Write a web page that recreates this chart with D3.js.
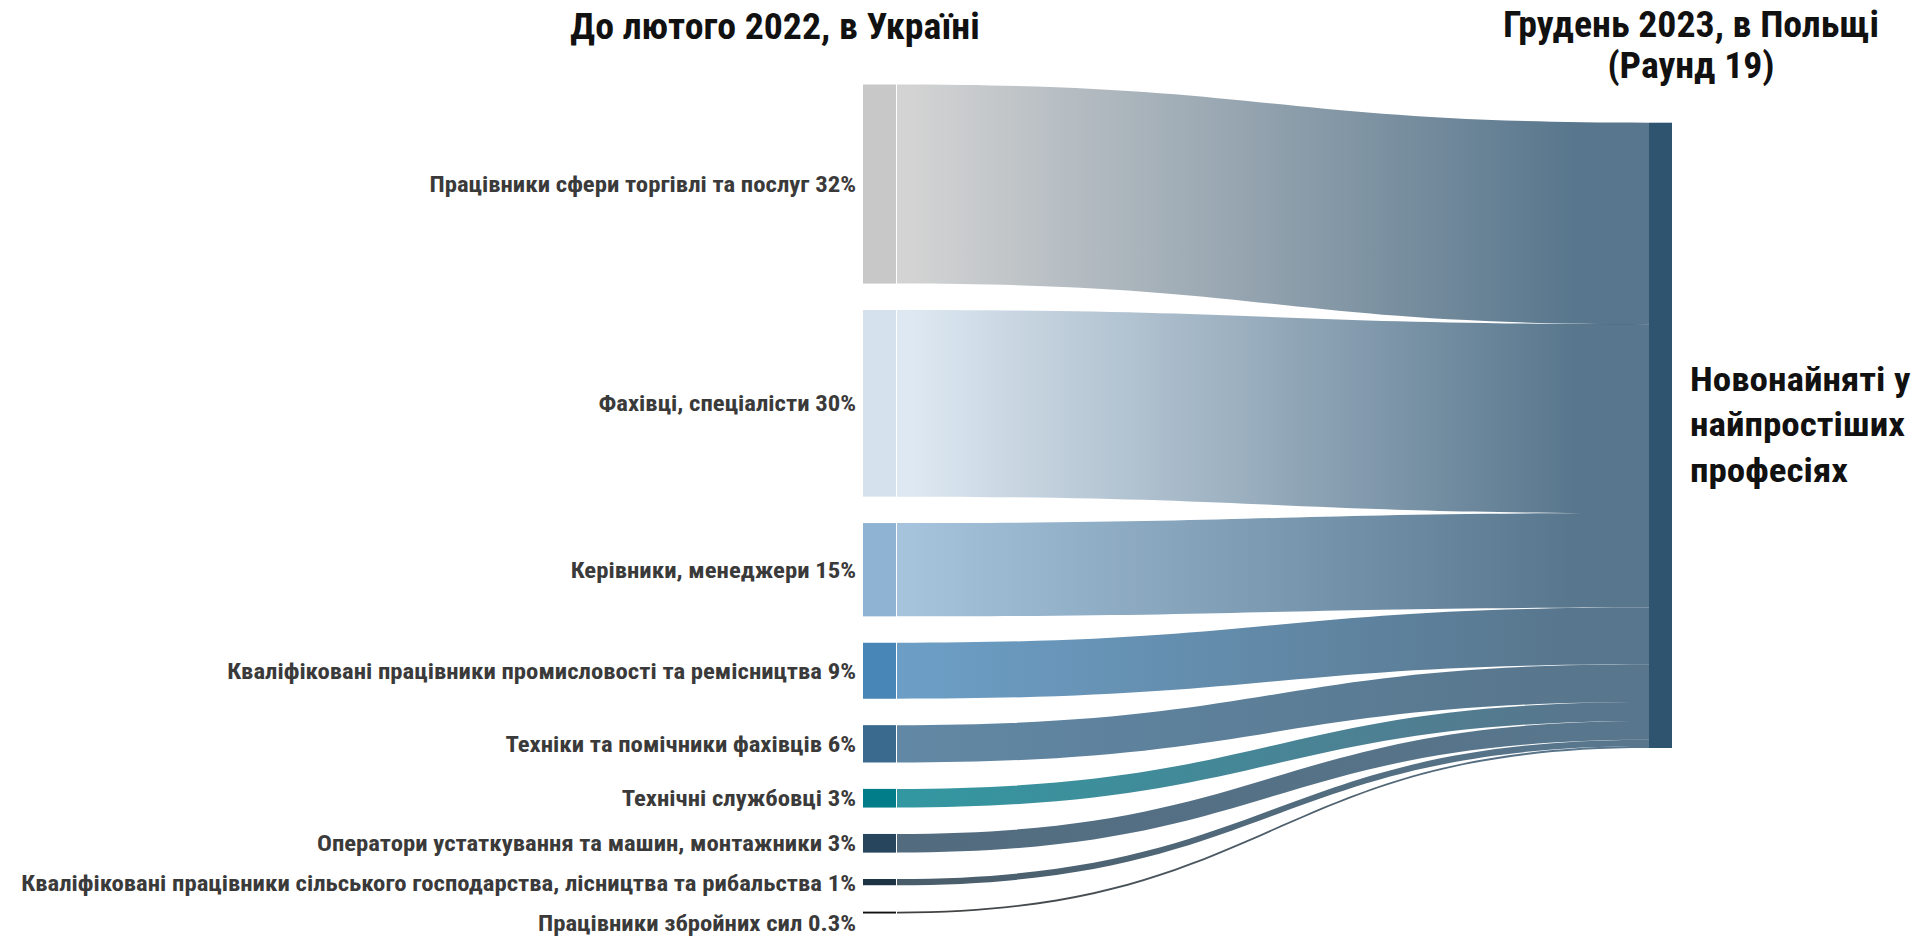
<!DOCTYPE html>
<html>
<head>
<meta charset="utf-8">
<script src="https://cdn.jsdelivr.net/npm/d3@7"></script>
<style>
  html, body { margin: 0; padding: 0; background: #ffffff; }
  svg { display: block; }
  text { font-family: "Roboto Condensed", Roboto, "Noto Sans", sans-serif; font-weight: 700; }
</style>
</head>
<body>
<svg id="chart" width="1918" height="937"></svg>
<script>
// ---------- data ----------
const sourceNames = [
  "Працівники сфери торгівлі та послуг 32%",
  "Фахівці, спеціалісти 30%",
  "Керівники, менеджери 15%",
  "Кваліфіковані працівники промисловості та ремісництва 9%",
  "Техніки та помічники фахівців 6%",
  "Технічні службовці 3%",
  "Оператори устаткування та машин, монтажники 3%",
  "Кваліфіковані працівники сільського господарства, лісництва та рибальства 1%",
  "Працівники збройних сил 0.3%"
];
const sourceValues = [32, 30, 15, 9, 6, 3, 3, 1, 0.3];
const sourceColors = ["#c8c8c8", "#d5e2ee", "#8fb4d3", "#4886b7", "#3a6a8e", "#007d89", "#27465e", "#1c3444", "#111111"];
const targetName = ["Новонайняті у", "найпростіших", "професіях"];
const targetColor = "#2e5470";
const titleLeft = "До лютого 2022, в Україні";
const titleRight = ["Грудень 2023, в Польщі", "(Раунд 19)"];

// ---------- layout ----------
const svg = d3.select("#chart");
const total = d3.sum(sourceValues);
const leftX0 = 863, leftX1 = 896, rightX0 = 1649, rightX1 = 1672;
const leftTop = 84.5, leftBottom = 913.5, nodeGap = 26.4;
const rightTop = 122.7, rightBottom = 748;
const n = sourceValues.length;

// value -> pixel height in the left column
const hScale = d3.scaleLinear().domain([0, total])
  .range([0, (leftBottom - leftTop) - nodeGap * (n - 1)]);
// cumulative value -> y in the right column
const rScale = d3.scaleLinear().domain([0, total]).range([rightTop, rightBottom]);

const nodes = [];
let y = leftTop, cum = 0;
sourceValues.forEach((v, i) => {
  const h = hScale(v);
  nodes.push({ name: sourceNames[i], value: v, color: sourceColors[i], y0: y, y1: y + h, r0: rScale(cum), r1: rScale(cum + v) });
  y += h + nodeGap;
  cum += v;
});

const defs = svg.append("defs");
const lx0 = leftX1 + 1, lx1 = rightX0;
const xm = (lx0 + lx1) / 2;

nodes.forEach((d, i) => {
  const g = defs.append("linearGradient")
    .attr("id", "grad" + i)
    .attr("gradientUnits", "userSpaceOnUse")
    .attr("x1", lx0).attr("x2", lx1).attr("y1", 0).attr("y2", 0);
  g.append("stop").attr("offset", 0.02).attr("stop-color", d.color);
  g.append("stop").attr("offset", 0.9).attr("stop-color", targetColor);
});

function linkPath(d) {
  const p = d3.path();
  p.moveTo(lx0, d.y0);
  p.bezierCurveTo(xm, d.y0, xm, d.r0, lx1, d.r0);
  p.lineTo(lx1, d.r1);
  p.bezierCurveTo(xm, d.r1, xm, d.y1, lx0, d.y1);
  p.closePath();
  return p.toString();
}

svg.append("g").selectAll("path")
  .data(nodes)
  .join("path")
  .attr("d", linkPath)
  .attr("fill", (d, i) => `url(#grad${i})`)
  .attr("fill-opacity", 0.8);

// left nodes
svg.append("g").selectAll("rect")
  .data(nodes)
  .join("rect")
  .attr("x", leftX0)
  .attr("width", leftX1 - leftX0)
  .attr("y", d => d.y0)
  .attr("height", d => Math.max(1, d.y1 - d.y0))
  .attr("fill", d => d.color);

// right node
svg.append("rect")
  .attr("x", rightX0).attr("width", rightX1 - rightX0)
  .attr("y", rScale(0)).attr("height", rScale(total) - rScale(0))
  .attr("fill", targetColor);

// left labels with simple collision avoidance
const minGap = 40;
let lastY = -Infinity;
nodes.forEach(d => {
  let cy = (d.y0 + d.y1) / 2;
  if (cy < lastY + minGap) cy = lastY + minGap;
  d.ly = cy;
  lastY = cy;
});
svg.append("g").selectAll("text")
  .data(nodes)
  .join("text")
  .attr("transform", d => `translate(${leftX0 - 7},${d.ly}) scale(1.1,1)`)
  .attr("text-anchor", "end")
  .attr("dy", "0.35em")
  .attr("font-size", 22.5)
  .attr("fill", "#3a3a3a")
  .text(d => d.name);

// right label
const rl = svg.append("text")
  .attr("transform", `translate(1690,391) scale(1.09,1)`)
  .attr("font-size", 34)
  .attr("fill", "#111");
targetName.forEach((t, i) => {
  rl.append("tspan").attr("x", 0).attr("y", i * 45.5).text(t);
});

// titles
svg.append("text")
  .attr("transform", `translate(775,39) scale(1.05,1)`)
  .attr("text-anchor", "middle")
  .attr("font-size", 36)
  .attr("fill", "#111")
  .text(titleLeft);

const tr = svg.append("text")
  .attr("transform", `translate(1691,37) scale(1.05,1)`)
  .attr("text-anchor", "middle")
  .attr("font-size", 36)
  .attr("fill", "#111");
titleRight.forEach((t, i) => {
  tr.append("tspan").attr("x", 0).attr("y", i * 41).text(t);
});
</script>
</body>
</html>
